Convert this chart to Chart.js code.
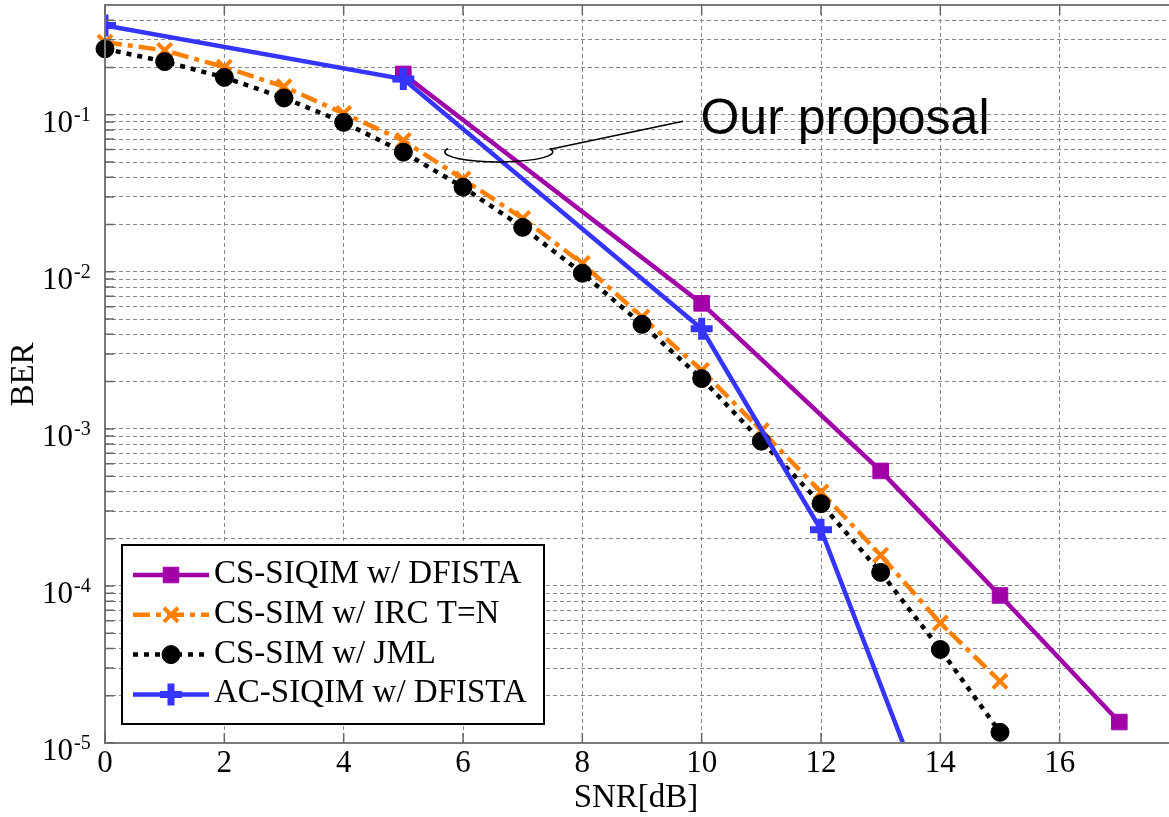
<!DOCTYPE html>
<html>
<head>
<meta charset="utf-8">
<script src="https://cdn.jsdelivr.net/npm/chart.js@4.4.0/dist/chart.umd.min.js"></script>
<style>
  html, body { margin: 0; padding: 0; overflow: hidden; background: #ffffff; }
  #wrap { width: 1169px; height: 817px; overflow: hidden; }
  canvas { display: block; }
</style>
</head>
<body>
<div id="wrap"><canvas id="c" width="1181" height="817"></canvas></div>
<script>
// ---------------- data ----------------
const seriesNames = ['CS-SIQIM w/ DFISTA', 'CS-SIM w/ IRC T=N', 'CS-SIM w/ JML', 'AC-SIQIM w/ DFISTA'];

const siqimX = [5, 10, 13, 15, 17];
const siqimY = [0.182, 0.0063, 5.4e-4, 8.7e-5, 1.36e-5];

const ircX = [0, 1, 2, 3, 4, 5, 6, 7, 8, 9, 10, 11, 12, 13, 14, 15];
const ircY = [0.29, 0.257, 0.201, 0.151, 0.102, 0.0686, 0.039, 0.0219, 0.0113, 0.00515, 0.00236, 9.77e-4, 3.96e-4, 1.57e-4, 5.81e-5, 2.47e-5];

const jmlX = [0, 1, 2, 3, 4, 5, 6, 7, 8, 9, 10, 11, 12, 13, 14, 15];
const jmlY = [0.263, 0.218, 0.173, 0.128, 0.0895, 0.0578, 0.0346, 0.0192, 0.0098, 0.00463, 0.00209, 8.35e-4, 3.34e-4, 1.22e-4, 3.94e-5, 1.17e-5];

const acX = [0, 5, 10, 12, 14];
const acY = [0.37, 0.169, 0.00434, 2.28e-4, 2.4e-6];

const xGridTicks = [0, 2, 4, 6, 8, 10, 12, 14, 16, 18];
const xTickLabels = ['0', '2', '4', '6', '8', '10', '12', '14', '16'];
const yMajorTicks = [1e-5, 1e-4, 1e-3, 1e-2, 1e-1];
const yTickExponents = ['-5', '-4', '-3', '-2', '-1'];
const yMinorMultipliers = [2, 3, 4, 5, 6, 7, 8, 9];

const xTitle = 'SNR[dB]';
const yTitle = 'BER';
const noteText = 'Our proposal';

// ---------------- styles ----------------
const SERIF = "'Liberation Serif', 'Times New Roman', serif";
const SANS = "'Liberation Sans', Arial, sans-serif";
const colMag = '#a100a8', colOra = '#ff8000', colBlk = '#000000', colBlu = '#3535ff';

function pts(xs, ys) { return xs.map((x, i) => ({ x: x, y: ys[i] })); }

// grid tick values for the log axis (majors and minors between them)
const yGridTicks = [];
yMajorTicks.forEach(m => {
  yGridTicks.push(m);
  yMinorMultipliers.forEach(k => { const v = m * k; if (v < 0.5) yGridTicks.push(v); });
});

const datasets = [
  { label: seriesNames[0], data: pts(siqimX, siqimY), borderColor: colMag, backgroundColor: colMag,
    borderWidth: 4.5, pointStyle: 'rect', pointRadius: 11, pointBorderWidth: 1,
    pointBackgroundColor: colMag, pointBorderColor: colMag, order: 4,
    clip: { left: false, top: false, right: false, bottom: 0 } },
  { label: seriesNames[1], data: pts(ircX, ircY), borderColor: colOra, backgroundColor: colOra,
    borderWidth: 4.5, borderDash: [17, 6, 5, 6], pointStyle: 'crossRot', pointRadius: 10, pointBorderWidth: 4,
    pointBackgroundColor: colOra, pointBorderColor: colOra, order: 3,
    clip: { left: false, top: false, right: false, bottom: 0 } },
  { label: seriesNames[2], data: pts(jmlX, jmlY), borderColor: colBlk, backgroundColor: colBlk,
    borderWidth: 4.5, borderDash: [5, 6], pointStyle: 'circle', pointRadius: 9, pointBorderWidth: 1,
    pointBackgroundColor: colBlk, pointBorderColor: colBlk, order: 2,
    clip: { left: false, top: false, right: false, bottom: 0 } },
  { label: seriesNames[3], data: pts(acX, acY), borderColor: colBlu, backgroundColor: colBlu,
    borderWidth: 4.5, pointStyle: 'cross', pointRadius: 11, pointBorderWidth: 7,
    pointBackgroundColor: colBlu, pointBorderColor: colBlu, order: 1,
    clip: { left: 0, top: false, right: false, bottom: 0 } }
];

const decorPlugin = {
  id: 'decor',
  afterDatasetsDraw(chart) {
    const ctx = chart.ctx;
    const a = chart.chartArea;
    const xs = chart.scales.x, ys = chart.scales.y;
    ctx.save();

    // axes box
    ctx.strokeStyle = '#7a7a7a';
    ctx.lineWidth = 2;
    ctx.setLineDash([]);
    ctx.strokeRect(a.left, a.top, a.right - a.left, a.bottom - a.top);

    // inward ticks
    ctx.lineWidth = 1.5;
    ctx.strokeStyle = '#666666';
    ctx.beginPath();
    xGridTicks.forEach(v => {
      const px = xs.getPixelForValue(v);
      ctx.moveTo(px, a.bottom); ctx.lineTo(px, a.bottom - 10);
      ctx.moveTo(px, a.top); ctx.lineTo(px, a.top + 10);
    });
    yGridTicks.forEach(v => {
      const py = ys.getPixelForValue(v);
      ctx.moveTo(a.left, py); ctx.lineTo(a.left + 9, py);
      ctx.moveTo(a.right, py); ctx.lineTo(a.right - 9, py);
    });
    ctx.stroke();

    // x tick labels
    ctx.fillStyle = '#000';
    ctx.font = '31px ' + SERIF;
    ctx.textAlign = 'center';
    ctx.textBaseline = 'alphabetic';
    xTickLabels.forEach((t, i) => {
      ctx.fillText(t, xs.getPixelForValue(xGridTicks[i]), a.bottom + 29);
    });

    // y tick labels with superscript exponent
    yMajorTicks.forEach((v, i) => {
      const py = ys.getPixelForValue(v);
      ctx.textAlign = 'left';
      ctx.font = '31px ' + SERIF;
      ctx.fillText('10', 42, py + 17);
      ctx.font = '20px ' + SERIF;
      ctx.fillText(yTickExponents[i], 74, py + 6);
    });

    // axis titles
    ctx.font = '33px ' + SERIF;
    ctx.textAlign = 'center';
    ctx.fillText(xTitle, 636, 807);
    ctx.save();
    ctx.translate(33, 374.5);
    ctx.rotate(-Math.PI / 2);
    ctx.fillText(yTitle, 0, 0);
    ctx.restore();

    // annotation: ellipse, leader line, text
    const ecx = xs.getPixelForValue(6.6), ecy = ys.getPixelForValue(0.058);
    ctx.strokeStyle = '#000';
    ctx.lineWidth = 1.5;
    ctx.beginPath();
    ctx.ellipse(ecx, ecy, 54, 10, 0, -0.35, Math.PI + 0.35);
    ctx.stroke();
    ctx.beginPath();
    ctx.moveTo(xs.getPixelForValue(7.46), ys.getPixelForValue(0.0603));
    ctx.lineTo(xs.getPixelForValue(9.69), ys.getPixelForValue(0.091));
    ctx.stroke();
    ctx.font = '50px ' + SANS;
    ctx.textAlign = 'left';
    ctx.fillText(noteText, xs.getPixelForValue(9.98), ys.getPixelForValue(0.0749));

    // legend
    const lx = 122, ly = 545, lw = 422, lh = 179;
    ctx.fillStyle = '#fff';
    ctx.fillRect(lx, ly, lw, lh);
    ctx.strokeStyle = '#000';
    ctx.lineWidth = 2;
    ctx.strokeRect(lx, ly, lw, lh);
    const rows = [575, 614.8, 654.6, 694.4];
    chart.data.datasets.forEach((ds, i) => {
      const y = rows[i];
      ctx.save();
      ctx.strokeStyle = ds.borderColor;
      ctx.lineWidth = ds.borderWidth;
      ctx.setLineDash(ds.borderDash || []);
      ctx.beginPath();
      ctx.moveTo(133, y); ctx.lineTo(209, y);
      ctx.stroke();
      ctx.setLineDash([]);
      ctx.fillStyle = ds.pointBackgroundColor;
      ctx.strokeStyle = ds.pointBorderColor;
      ctx.lineWidth = ds.pointBorderWidth;
      Chart.helpers.drawPoint(ctx, { pointStyle: ds.pointStyle, radius: ds.pointRadius, rotation: 0, borderWidth: ds.pointBorderWidth }, 171, y);
      ctx.restore();
      ctx.fillStyle = '#000';
      ctx.font = '33px ' + SERIF;
      ctx.textAlign = 'left';
      ctx.fillText(ds.label, 214, y + 8);
    });

    ctx.restore();
  }
};

new Chart(document.getElementById('c'), {
  type: 'line',
  data: { datasets: datasets },
  options: {
    responsive: false,
    animation: false,
    devicePixelRatio: 1,
    layout: { autoPadding: false, padding: { top: 5, right: 2, left: 0, bottom: 0 } },
    plugins: { legend: { display: false }, tooltip: { enabled: false } },
    elements: { line: { tension: 0, fill: false } },
    scales: {
      x: {
        type: 'linear', min: 0, max: 18,
        ticks: { display: false },
        afterBuildTicks: s => { s.ticks = xGridTicks.map(v => ({ value: v })); },
        afterFit: s => { s.height = 74; },
        grid: { color: '#888888', lineWidth: 1, drawTicks: false },
        border: { display: false, dash: [4, 3] }
      },
      y: {
        type: 'logarithmic', min: 1e-5, max: 0.5,
        ticks: { display: false },
        afterBuildTicks: s => { s.ticks = yGridTicks.map(v => ({ value: v })); },
        afterFit: s => { s.width = 105; },
        grid: { color: '#888888', lineWidth: 1, drawTicks: false },
        border: { display: false, dash: [4, 3] }
      }
    }
  },
  plugins: [decorPlugin]
});
</script>
</body>
</html>
